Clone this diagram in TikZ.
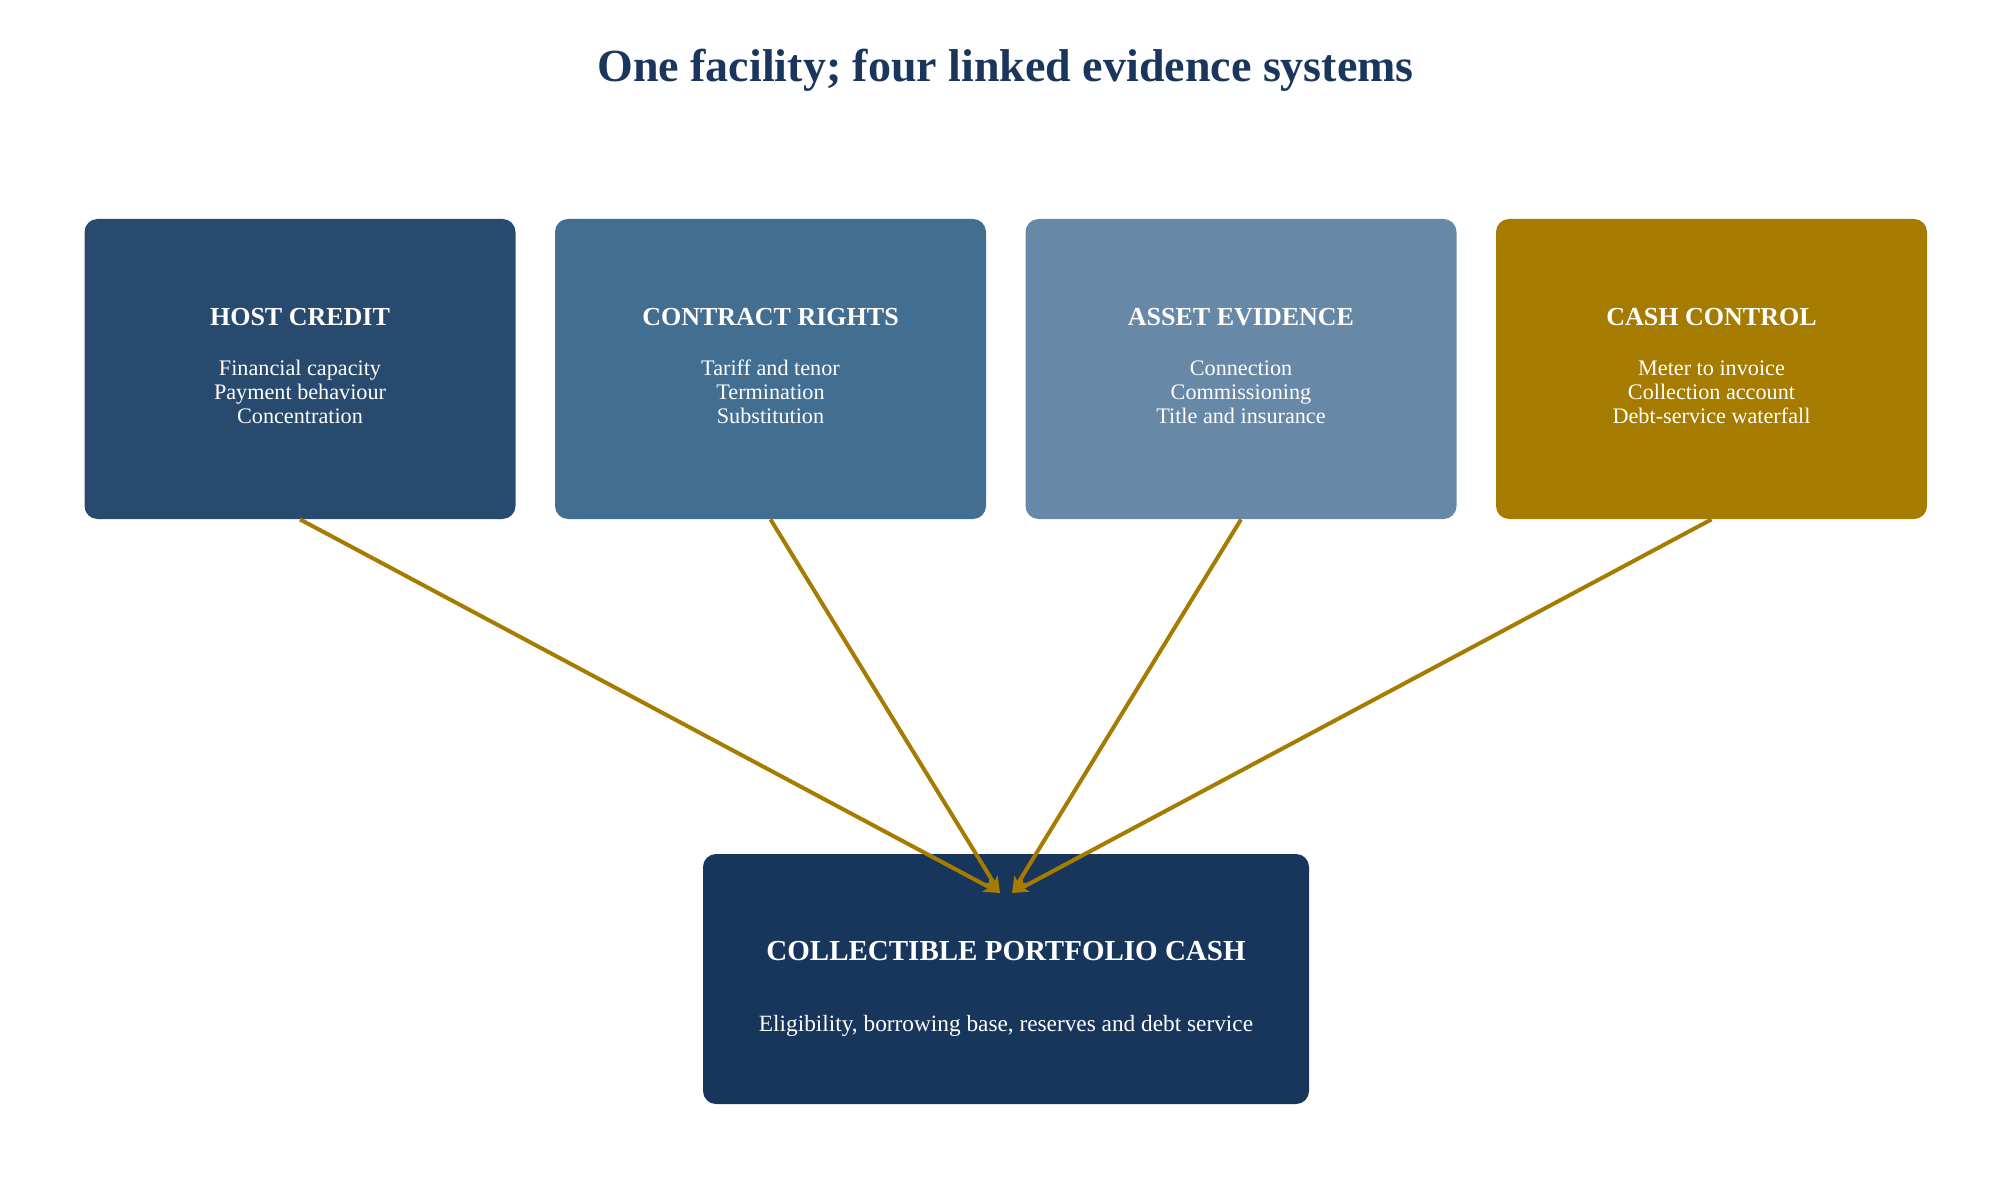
\documentclass[tikz,border=0pt]{standalone}
\usepackage{fontspec}
\setmainfont{Liberation Serif}
\usetikzlibrary{arrows.meta}
\definecolor{titleblue}{HTML}{1A365D}
\definecolor{hostc}{HTML}{284A6E}
\definecolor{contc}{HTML}{426E92}
\definecolor{assetc}{HTML}{6788A7}
\definecolor{cashc}{HTML}{A67C00}
\definecolor{bottomc}{HTML}{18365C}
\definecolor{arrowc}{HTML}{A67C00}
\tikzset{
  card/.style={draw=none, rounded corners=6.5pt, minimum width=215.5pt, minimum height=150pt, inner sep=0pt},
  bigcard/.style={draw=none, rounded corners=6.5pt, minimum width=303pt, minimum height=125pt, inner sep=0pt},
  cardtitle/.style={text=white, anchor=base, inner sep=0pt, font=\bfseries\fontsize{13}{15}\selectfont},
  cardbody/.style={text=white, anchor=base, inner sep=0pt, align=center, font=\fontsize{11.1}{12.25}\selectfont},
  link/.style={draw=arrowc, line width=2pt, -{Stealth[length=8pt,width=7pt,inset=2pt]}}
}
\begin{document}
\begin{tikzpicture}[x=0.5pt,y=-0.5pt]
\useasboundingbox[fill=white] (0,0) rectangle (2011,1197);
\node[text=titleblue, anchor=base, inner sep=0pt, font=\bfseries\fontsize{23}{28}\selectfont] (title) at (1005.5,82) {One facility; four linked evidence systems};

\node[card, fill=hostc] (host) at (300,369) {};
\node[card, fill=contc] (contract) at (770.5,369) {};
\node[card, fill=assetc] (asset) at (1241,369) {};
\node[card, fill=cashc] (cash) at (1711.5,369) {};

\node[cardtitle] (hostT) at (300,326) {HOST CREDIT};
\node[cardbody] (hostB) at (300,424) {Financial capacity\\Payment behaviour\\Concentration};
\node[cardtitle] (contractT) at (770.5,326) {CONTRACT RIGHTS};
\node[cardbody] (contractB) at (770.5,424) {Tariff and tenor\\Termination\\Substitution};
\node[cardtitle] (assetT) at (1241,326) {ASSET EVIDENCE};
\node[cardbody] (assetB) at (1241,424) {Connection\\Commissioning\\Title and insurance};
\node[cardtitle] (cashT) at (1711.5,326) {CASH CONTROL};
\node[cardbody] (cashB) at (1711.5,424) {Meter to invoice\\Collection account\\Debt-service waterfall};

\node[bigcard, fill=bottomc] (pool) at (1006,979) {};
\node[text=white, anchor=base, inner sep=0pt, font=\bfseries\fontsize{14.5}{17}\selectfont] (poolT) at (1006,960) {COLLECTIBLE PORTFOLIO CASH};
\node[text=white, anchor=base, inner sep=0pt, font=\fontsize{11.65}{13}\selectfont] (poolB) at (1006,1031) {Eligibility, borrowing base, reserves and debt service};

\coordinate (tipL) at (1000,893);
\coordinate (tipR) at (1012,893);
\draw[link] (host.south) -- (tipL);
\draw[link] (contract.south) -- (tipL);
\draw[link] (asset.south) -- (tipR);
\draw[link] (cash.south) -- (tipR);
\end{tikzpicture}
\end{document}
